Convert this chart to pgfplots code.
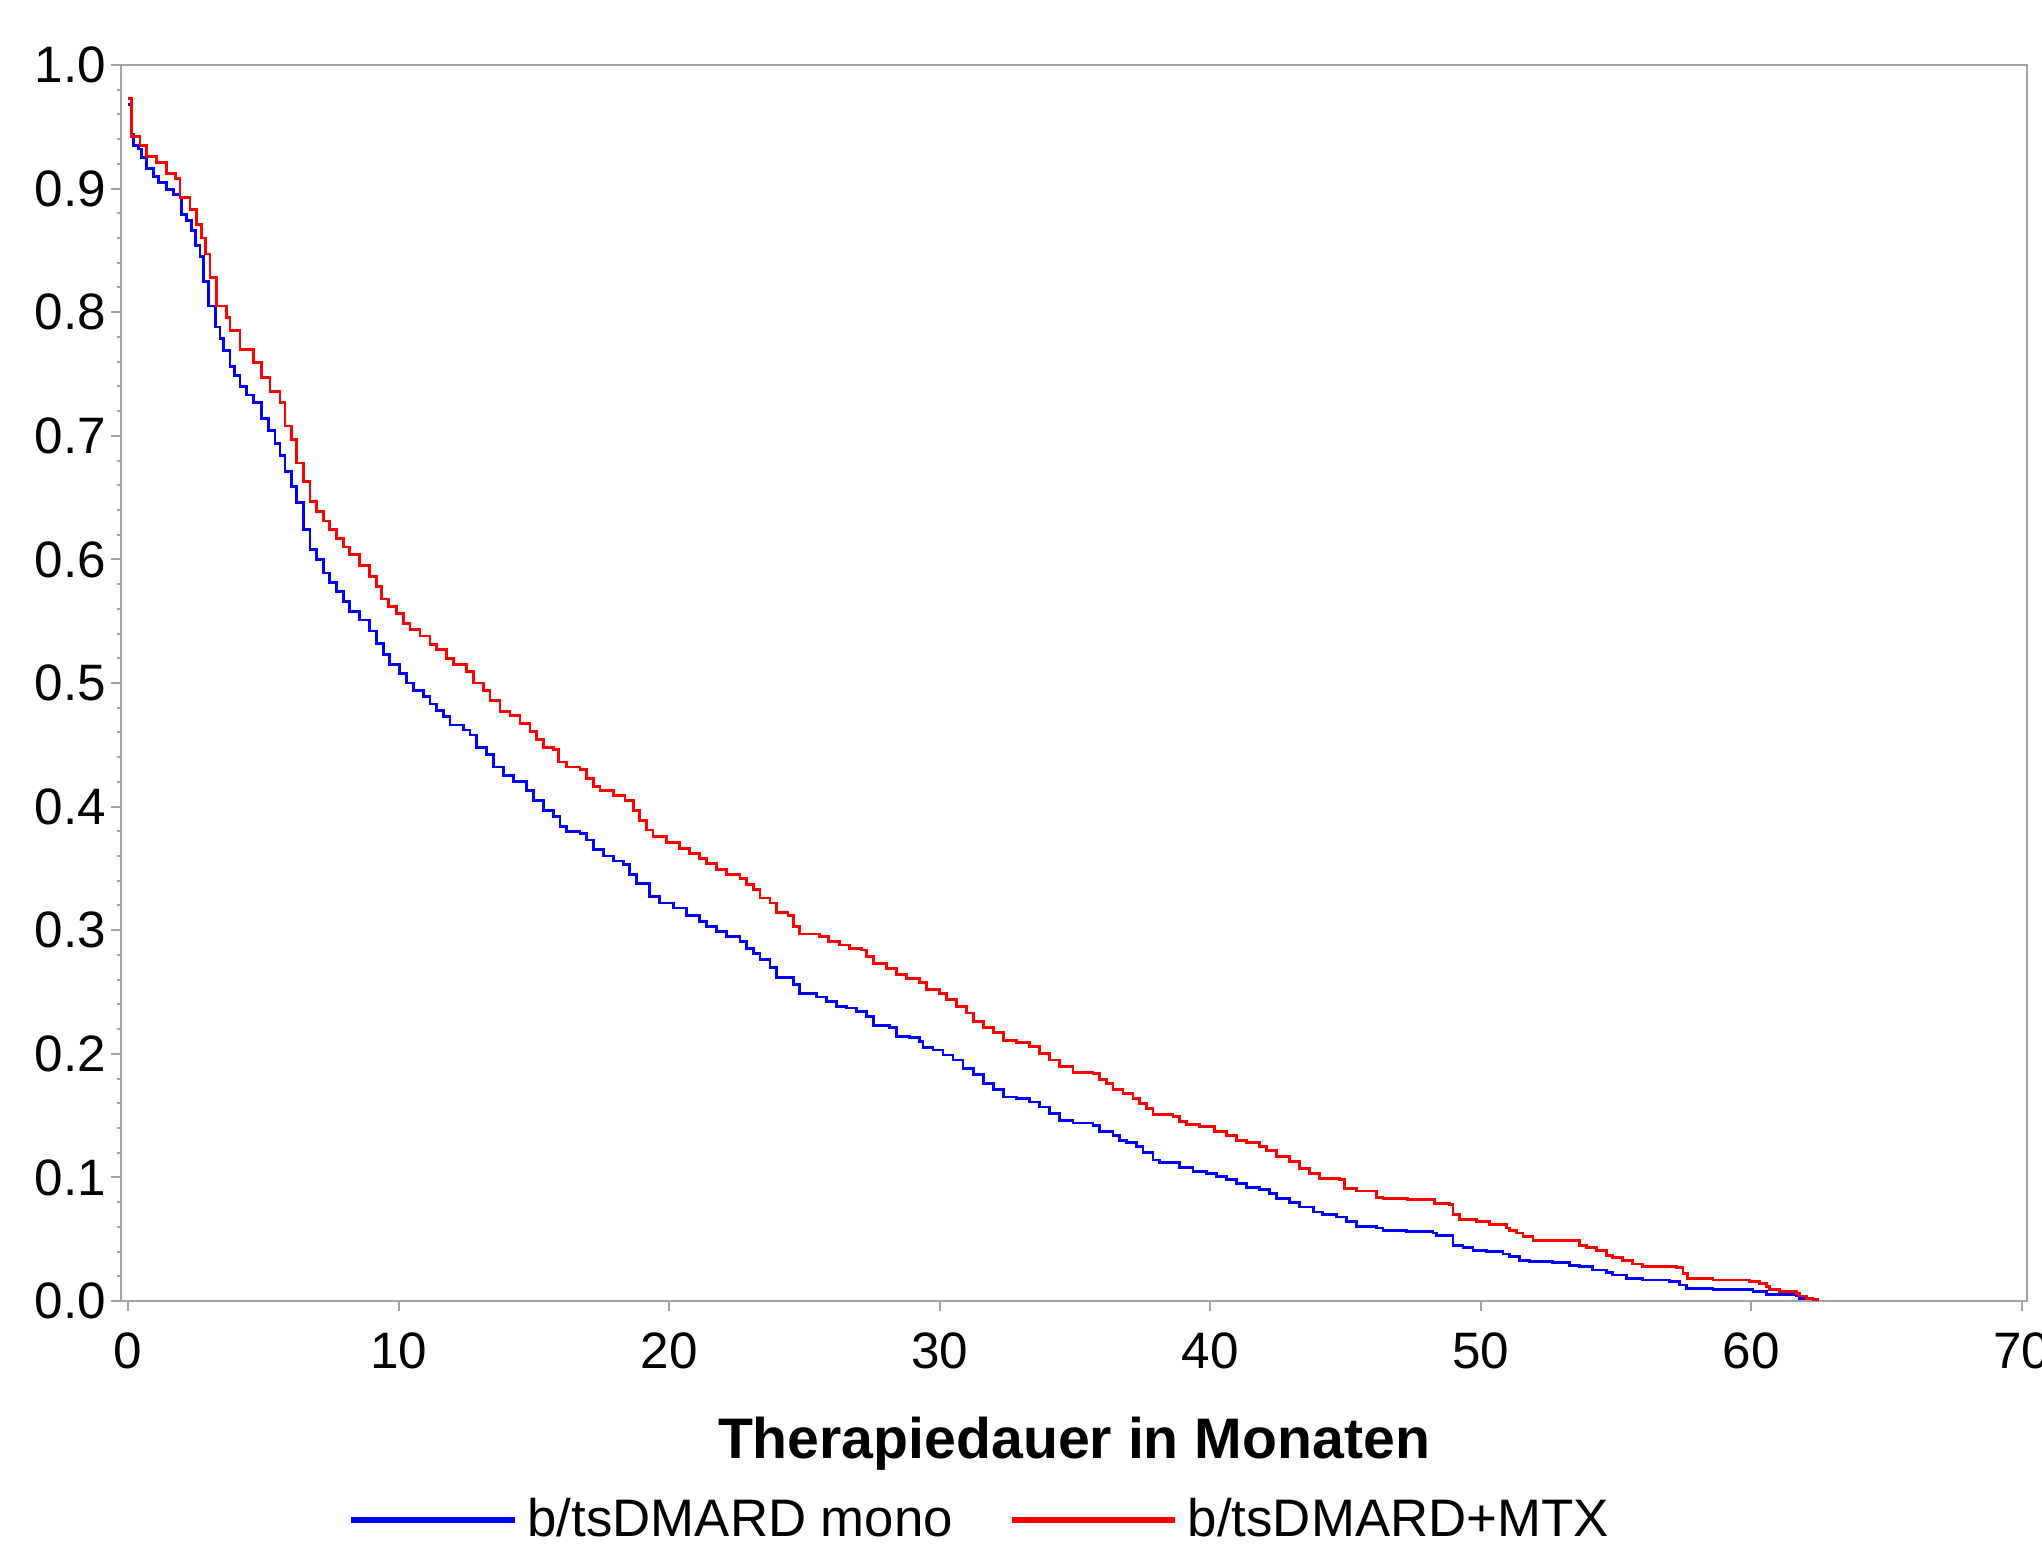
\documentclass[border=0pt]{standalone}
\usepackage{pgfplots}
\pgfplotsset{compat=1.18}
\usepackage{fontspec}
\setmainfont{Liberation Sans}
\definecolor{axisgray}{RGB}{160,163,168}
\definecolor{kmblue}{RGB}{0,0,255}
\definecolor{kmred}{RGB}{255,0,0}
\begin{document}
\begin{tikzpicture}
\begin{axis}[
  scale only axis,
  width=476.5bp, height=309bp,
  xmin=-0.26, xmax=70.2, ymin=0, ymax=1,
  xtick={0,10,20,30,40,50,60,70},
  ytick={0,0.1,0.2,0.3,0.4,0.5,0.6,0.7,0.8,0.9,1},
  minor y tick num=4,
  tick align=outside,
  xtick pos=lower, ytick pos=left,
  major tick length=2.5bp,
  minor tick length=1.1bp,
  axis line style={draw=axisgray, line width=0.5bp},
  every tick/.style={draw=axisgray, line width=0.5bp},
  /pgf/number format/assume math mode=true,
  tick label style={font=\fontsize{12.8bp}{14bp}\selectfont, text=black},
  xticklabel style={yshift=-2bp},
  yticklabel style={xshift=2.3bp, /pgf/number format/.cd, fixed, fixed zerofill, precision=1},
  xlabel={Therapiedauer in Monaten},
  xlabel style={font=\bfseries\fontsize{14.3bp}{16bp}\selectfont, at={(axis description cs:0.5,0)}, anchor=base, yshift=-39.25bp},
  legend columns=2,
  legend style={draw=none, fill=none, inner sep=0pt, outer sep=0pt,
    at={(axis description cs:0,0)}, anchor=west, xshift=56.85bp, yshift=-54.75bp,
    font=\fontsize{13.2bp}{15bp}\selectfont,
    nodes={inner sep=0pt},
    /tikz/every odd column/.append style={column sep=2.5bp},
    /tikz/every even column/.append style={column sep=13.9bp}},
  legend image code/.code={\draw[#1, line width=1.5bp] (0bp,0bp) -- (40.8bp,0bp);},
]
\addplot[kmblue, line width=0.7bp, const plot, mark=none] table {
x y
0 0.968
0.14 0.944
0.20 0.935
0.38 0.932
0.51 0.925
0.69 0.916
0.94 0.910
1.12 0.905
1.43 0.899
1.68 0.895
1.92 0.893
1.98 0.879
2.17 0.874
2.35 0.866
2.48 0.854
2.66 0.845
2.78 0.825
2.97 0.805
3.22 0.788
3.40 0.779
3.52 0.769
3.77 0.756
3.95 0.749
4.14 0.740
4.39 0.733
4.63 0.727
4.94 0.714
5.19 0.704
5.43 0.694
5.62 0.684
5.80 0.671
6.05 0.659
6.23 0.646
6.48 0.624
6.73 0.608
6.97 0.600
7.22 0.589
7.46 0.581
7.71 0.574
7.96 0.566
8.20 0.558
8.57 0.551
8.94 0.542
9.19 0.532
9.44 0.523
9.68 0.515
10.05 0.508
10.30 0.500
10.55 0.494
10.91 0.489
11.16 0.483
11.41 0.478
11.65 0.473
11.90 0.466
12.39 0.462
12.64 0.458
12.89 0.448
13.25 0.442
13.50 0.432
13.87 0.425
14.24 0.420
14.73 0.413
14.98 0.405
15.35 0.397
15.72 0.392
15.97 0.384
16.21 0.380
16.71 0.378
16.95 0.373
17.20 0.365
17.57 0.360
17.94 0.356
18.31 0.353
18.55 0.345
18.80 0.338
19.29 0.327
19.66 0.322
20.16 0.318
20.65 0.312
21.14 0.307
21.38 0.303
21.75 0.299
22.12 0.295
22.62 0.291
22.86 0.285
23.11 0.281
23.36 0.276
23.73 0.270
23.97 0.262
24.59 0.256
24.83 0.249
25.45 0.246
25.82 0.242
26.19 0.238
26.56 0.237
26.93 0.234
27.30 0.230
27.55 0.223
28.16 0.221
28.41 0.214
28.90 0.213
29.27 0.210
29.39 0.205
29.76 0.203
30.13 0.199
30.50 0.195
30.87 0.188
31.24 0.183
31.61 0.176
31.98 0.171
32.35 0.165
32.84 0.164
33.33 0.161
33.70 0.157
34.07 0.152
34.44 0.146
34.93 0.144
35.67 0.142
35.92 0.137
36.41 0.134
36.66 0.130
36.91 0.128
37.27 0.125
37.52 0.120
37.89 0.114
38.14 0.112
38.88 0.108
39.37 0.105
39.86 0.103
40.23 0.101
40.60 0.098
40.97 0.095
41.34 0.092
41.84 0.090
42.21 0.087
42.45 0.083
42.94 0.080
43.31 0.076
43.81 0.072
44.17 0.070
44.67 0.068
45.04 0.064
45.40 0.060
46.14 0.059
46.39 0.057
47.26 0.056
48.24 0.055
48.36 0.053
48.98 0.045
49.35 0.043
49.72 0.041
50.21 0.040
50.83 0.038
51.07 0.036
51.44 0.033
51.81 0.032
52.67 0.031
53.29 0.029
53.66 0.028
54.15 0.025
54.64 0.023
54.89 0.021
55.39 0.018
56.00 0.017
56.99 0.016
57.36 0.013
57.60 0.010
58.59 0.009
60.07 0.008
60.56 0.005
61.67 0.004
61.79 0.002
62.29 0.001
62.47 0.000
};
\addlegendentry{b/tsDMARD mono}
\addplot[kmred, line width=0.7bp, const plot, mark=none] table {
x y
0 0.973
0.14 0.942
0.44 0.935
0.69 0.926
1.06 0.921
1.43 0.912
1.74 0.908
1.92 0.893
2.29 0.883
2.54 0.871
2.72 0.860
2.85 0.847
3.03 0.828
3.28 0.805
3.65 0.796
3.77 0.785
4.14 0.770
4.63 0.759
4.94 0.747
5.25 0.736
5.62 0.727
5.80 0.708
6.05 0.697
6.23 0.678
6.48 0.663
6.73 0.647
6.97 0.639
7.22 0.631
7.46 0.624
7.71 0.617
7.96 0.610
8.20 0.604
8.57 0.595
8.94 0.586
9.19 0.578
9.38 0.568
9.62 0.562
9.93 0.556
10.18 0.548
10.42 0.543
10.79 0.538
11.16 0.531
11.41 0.527
11.78 0.520
12.02 0.515
12.52 0.509
12.76 0.500
13.13 0.494
13.38 0.486
13.75 0.477
14.12 0.474
14.49 0.467
14.86 0.461
15.10 0.454
15.35 0.448
15.72 0.446
15.91 0.436
16.21 0.432
16.71 0.430
16.95 0.423
17.20 0.416
17.45 0.413
17.94 0.409
18.37 0.405
18.68 0.397
18.92 0.389
19.17 0.381
19.41 0.376
19.91 0.371
20.40 0.366
20.77 0.362
21.14 0.358
21.38 0.354
21.75 0.349
22.12 0.345
22.62 0.342
22.86 0.337
23.11 0.333
23.36 0.326
23.73 0.322
23.97 0.314
24.40 0.312
24.59 0.303
24.83 0.297
25.57 0.295
25.88 0.291
26.31 0.288
26.68 0.285
27.11 0.284
27.30 0.279
27.55 0.273
28.04 0.269
28.41 0.264
28.78 0.261
29.27 0.258
29.51 0.252
30.01 0.249
30.25 0.244
30.62 0.238
30.99 0.233
31.24 0.226
31.61 0.221
31.98 0.217
32.35 0.211
32.84 0.209
33.33 0.206
33.70 0.200
34.07 0.195
34.44 0.190
34.93 0.185
35.67 0.184
35.92 0.179
36.17 0.176
36.41 0.171
36.78 0.168
37.15 0.164
37.40 0.160
37.64 0.156
37.89 0.151
38.63 0.149
38.88 0.145
39.12 0.143
39.62 0.141
40.17 0.137
40.60 0.134
40.97 0.130
41.34 0.128
41.84 0.125
42.08 0.122
42.45 0.117
42.94 0.113
43.31 0.107
43.68 0.103
44.05 0.099
44.79 0.098
44.98 0.091
45.40 0.089
46.14 0.084
46.39 0.083
47.31 0.082
48.30 0.079
48.85 0.078
48.98 0.070
49.22 0.066
49.84 0.064
50.33 0.062
50.95 0.059
51.07 0.057
51.32 0.055
51.57 0.052
51.94 0.049
53.66 0.045
53.91 0.043
54.28 0.041
54.64 0.037
54.89 0.035
55.26 0.033
55.63 0.030
56.00 0.028
57.23 0.027
57.48 0.022
57.66 0.018
58.59 0.017
59.94 0.016
60.31 0.014
60.56 0.012
60.68 0.009
61.05 0.008
61.67 0.006
61.79 0.004
62.04 0.002
62.29 0.001
62.47 0.000
};
\addlegendentry{b/tsDMARD+MTX}
\end{axis}
\pgfresetboundingbox
\useasboundingbox (-30.25bp,-61.25bp) rectangle (480.25bp,325.25bp);
\end{tikzpicture}
\end{document}
